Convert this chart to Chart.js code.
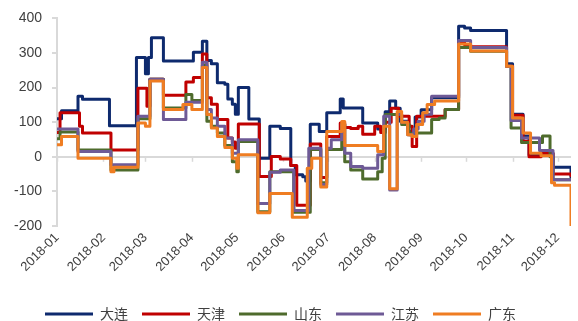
<!DOCTYPE html>
<html>
<head>
<meta charset="utf-8">
<script src="https://cdn.jsdelivr.net/npm/chart.js@4.4.1/dist/chart.umd.min.js"></script>
<style>
  html, body { margin: 0; padding: 0; background: #ffffff; }
  canvas { display: block; }
</style>
</head>
<body>
<canvas id="chart" width="578" height="321"></canvas>
<script>
// Month labels on the date axis and the day-of-year each month begins on
const monthLabels = ['2018-01', '2018-02', '2018-03', '2018-04', '2018-05', '2018-06',
                     '2018-07', '2018-08', '2018-09', '2018-10', '2018-11', '2018-12'];
const monthStarts = [0, 31, 59, 90, 120, 151, 181, 212, 243, 273, 304, 334];
const lastDay = 343;

// Price spread by region: [day of year, value]; each value holds until the next entry
const dalian = [[0,110],[3,133],[14,175],[17,166],[35,90],[53,287],[59,240],[61,287],[63,344],[71,277],
  [91,302],[97,334],[100,278],[103,269],[107,214],[112,210],[114,167],[117,152],[119,123],[121,200],
  [128,109],[135,-4],[142,88],[149,82],[156,-25],[159,-52],[164,-58],[166,-70],[169,94],[175,73],
  [180,127],[189,167],[191,141],[204,98],[214,80],[219,130],[222,161],[226,140],[229,103],[234,73],
  [239,115],[243,136],[250,171],[268,377],[272,372],[276,365],[297,365],[300,269],[304,123],[311,60],
  [315,5],[323,10],[331,-30],[343,-60]];

const tianjin = [[0,70],[2,127],[15,88],[17,69],[36,20],[54,198],[60,146],[62,224],[71,178],[86,216],
  [91,229],[97,297],[100,171],[103,152],[107,108],[114,54],[117,43],[119,25],[121,95],[135,-57],
  [143,1],[149,-6],[156,-25],[160,-140],[169,37],[176,-60],[180,59],[189,98],[192,85],[196,82],
  [201,88],[204,65],[212,88],[216,70],[219,100],[223,140],[228,117],[235,88],[237,30],[240,117],
  [259,137],[268,330],[272,324],[276,318],[297,318],[300,262],[304,120],[311,45],[315,0],[323,10],
  [331,-50],[343,-55]];

const shandong = [[0,52],[2,72],[14,20],[36,-38],[54,110],[62,224],[71,141],[86,180],[90,163],[97,265],
  [100,103],[103,88],[107,69],[112,33],[117,-14],[120,-43],[121,44],[134,-159],[142,-43],[158,-160],
  [169,21],[176,-75],[180,21],[190,94],[192,-14],[196,-38],[204,-64],[214,-43],[217,-4],[219,122],
  [230,93],[235,64],[237,69],[250,108],[255,112],[259,137],[268,316],[276,305],[297,305],[300,262],
  [303,83],[310,41],[324,60],[329,0],[331,-66],[343,-66]];

const jiangsu = [[0,80],[14,15],[36,-23],[54,117],[62,224],[71,108],[86,158],[97,273],[100,137],[103,112],
  [107,88],[112,54],[117,10],[121,49],[134,-135],[142,-45],[149,-38],[158,-155],[168,25],[176,-80],
  [180,25],[183,49],[190,94],[192,10],[196,-28],[204,-33],[214,6],[218,117],[222,-96],[227,123],
  [230,100],[234,64],[238,80],[241,103],[245,123],[250,175],[268,336],[276,316],[297,316],[300,262],
  [303,105],[310,54],[322,18],[331,-66],[343,-66]];

const guangdong = [[0,35],[3,59],[14,-4],[36,-43],[38,-30],[54,98],[59,88],[62,219],[71,137],[84,151],
  [90,137],[97,258],[100,122],[103,83],[107,59],[112,27],[117,-4],[120,-33],[121,6],[134,-162],
  [142,-106],[157,-175],[167,-33],[170,-4],[176,-87],[180,73],[190,102],[192,33],[214,15],[218,88],
  [222,-92],[227,131],[230,100],[234,64],[237,59],[240,93],[244,127],[247,151],[252,161],[268,326],
  [276,306],[297,306],[300,262],[304,112],[311,69],[316,10],[323,3],[330,-75],[332,-82],[343,-200]];

const seriesNames = ['大连', '天津', '山东', '江苏', '广东'];
const seriesData = [dalian, tianjin, shandong, jiangsu, guangdong];
const seriesColors = ['#0E2A6E', '#C00000', '#4E6B2C', '#6E5A96', '#EF7D22'];

const axisGrey = '#d9d9d9';
const textColor = '#404040';
const yTickFont = { family: '"Liberation Sans", Arial, sans-serif', size: 14 };
const xTickFont = { family: '"Liberation Sans", Arial, sans-serif', size: 13 };

// Small tick marks where the month boundaries cross the zero line
const zeroLineTicks = {
  id: 'zeroLineTicks',
  beforeDatasetsDraw(chart) {
    const { ctx, scales: { x, y } } = chart;
    const y0 = y.getPixelForValue(0);
    ctx.save();
    ctx.strokeStyle = axisGrey;
    ctx.lineWidth = 1.5;
    x.ticks.forEach(t => {
      const px = Math.round(x.getPixelForValue(t.value)) + 0.5;
      ctx.beginPath();
      ctx.moveTo(px, y0);
      ctx.lineTo(px, y0 + 5);
      ctx.stroke();
    });
    ctx.restore();
  }
};

// Nudge the legend row a little to the left of the canvas centre
const legendOffset = {
  id: 'legendOffset',
  afterLayout(chart) {
    if (chart.legend) {
      chart.legend.left -= 7;
      chart.legend.right -= 7;
    }
  }
};

new Chart(document.getElementById('chart'), {
  type: 'line',
  data: {
    datasets: seriesNames.map((name, i) => ({
      label: name,
      data: seriesData[i].map(([day, value]) => ({ x: day, y: value })),
      borderColor: seriesColors[i],
      backgroundColor: seriesColors[i],
      borderWidth: 3,
      pointRadius: 0,
      stepped: 'before',
      borderJoinStyle: 'round',
      borderCapStyle: 'round',
      order: seriesNames.length - i
    }))
  },
  options: {
    responsive: false,
    animation: false,
    devicePixelRatio: 1,
    layout: { padding: { left: 4, right: 7, top: 17, bottom: -10 } },
    plugins: {
      tooltip: { enabled: false },
      legend: {
        position: 'bottom',
        labels: {
          boxWidth: 48,
          boxHeight: 3,
          padding: 14,
          color: textColor,
          font: { family: '"Noto Sans CJK SC", sans-serif', size: 14 },
          generateLabels(chart) {
            return chart.data.datasets.map((ds, i) => ({
              text: ds.label,
              fillStyle: ds.borderColor,
              strokeStyle: ds.borderColor,
              lineWidth: 0,
              hidden: false,
              datasetIndex: i,
              fontColor: textColor
            }));
          }
        }
      }
    },
    scales: {
      x: {
        type: 'linear',
        min: 0,
        max: lastDay,
        afterBuildTicks(axis) {
          axis.ticks = monthStarts.map(v => ({ value: v }));
        },
        afterFit(axis) {
          axis.height = 67;
          axis.paddingLeft = 0;
          axis.paddingRight = 0;
        },
        ticks: {
          autoSkip: false,
          minRotation: 45,
          maxRotation: 45,
          padding: 4,
          color: textColor,
          font: xTickFont,
          callback(value) {
            const idx = monthStarts.indexOf(value);
            return idx >= 0 ? monthLabels[idx] : '';
          }
        },
        grid: { display: false, drawTicks: false },
        border: { display: false }
      },
      y: {
        min: -200,
        max: 400,
        ticks: {
          stepSize: 100,
          padding: 10,
          color: textColor,
          font: yTickFont
        },
        grid: {
          color: ctx => (ctx.tick && ctx.tick.value === 0 ? axisGrey : 'rgba(0,0,0,0)'),
          lineWidth: 2,
          drawTicks: true,
          tickLength: 5,
          tickColor: axisGrey
        },
        border: { display: true, color: axisGrey, width: 2 }
      }
    }
  },
  plugins: [zeroLineTicks, legendOffset]
});
</script>
</body>
</html>
